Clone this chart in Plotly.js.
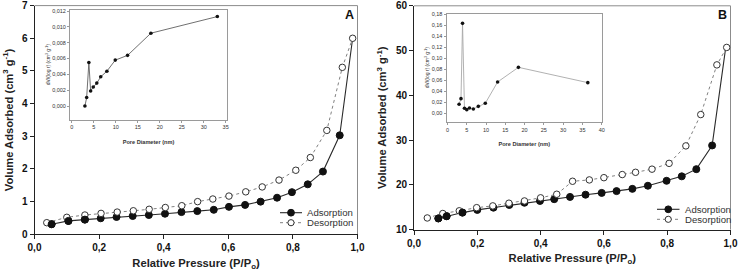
<!DOCTYPE html>
<html>
<head>
<meta charset="utf-8">
<script src="https://cdn.plot.ly/plotly-3.0.1.min.js"></script>
<style>
  html, body { margin: 0; padding: 0; background: #fff; }
  #chart { width: 739px; height: 278px; }
</style>
</head>
<body>
<div id="chart"></div>
<script>
// ---- Sample A: N2 isotherm (relative pressure vs adsorbed volume) ----
const adsA_p = [0.053, 0.105, 0.156, 0.205, 0.254, 0.304, 0.354, 0.404, 0.455, 0.504, 0.555, 0.602, 0.652, 0.700, 0.751, 0.797, 0.846, 0.893, 0.945, 0.985];
const adsA_v = [0.31, 0.41, 0.45, 0.49, 0.53, 0.56, 0.59, 0.63, 0.68, 0.71, 0.75, 0.84, 0.90, 1.00, 1.12, 1.29, 1.53, 1.92, 3.03, 6.00];
const desA_p = [0.038, 0.100, 0.156, 0.206, 0.256, 0.306, 0.355, 0.405, 0.456, 0.505, 0.552, 0.602, 0.654, 0.705, 0.757, 0.809, 0.854, 0.905, 0.953, 0.985];
const desA_v = [0.355, 0.52, 0.59, 0.64, 0.68, 0.72, 0.765, 0.82, 0.875, 1.00, 1.08, 1.17, 1.30, 1.45, 1.66, 1.96, 2.35, 3.18, 5.11, 6.00];

// ---- Sample A: pore size distribution ----
const psdA_d = [3.0, 3.4, 3.9, 4.3, 4.9, 5.7, 6.6, 8.0, 9.9, 12.7, 18.0, 33.1];
const psdA_v = [0.0000, 0.00107, 0.0055, 0.0019, 0.0024, 0.0029, 0.0037, 0.0044, 0.0058, 0.0064, 0.0092, 0.0113];

// ---- Sample B: N2 isotherm ----
const adsB_p = [0.077, 0.103, 0.153, 0.200, 0.251, 0.301, 0.349, 0.398, 0.443, 0.493, 0.542, 0.593, 0.640, 0.690, 0.739, 0.798, 0.846, 0.892, 0.942, 0.985];
const adsB_v = [12.5, 13.0, 13.8, 14.4, 14.9, 15.5, 16.0, 16.4, 16.8, 17.3, 17.8, 18.2, 18.6, 19.1, 19.8, 20.9, 21.9, 23.5, 28.8, 50.7];
const desB_p = [0.042, 0.091, 0.143, 0.198, 0.249, 0.300, 0.349, 0.400, 0.451, 0.501, 0.554, 0.600, 0.658, 0.700, 0.752, 0.806, 0.859, 0.906, 0.957, 0.988];
const desB_v = [12.6, 13.6, 14.2, 14.9, 15.3, 15.9, 16.4, 17.1, 17.9, 20.8, 21.1, 21.6, 22.3, 22.8, 23.5, 24.8, 28.7, 35.7, 46.8, 50.7];

// ---- Sample B: pore size distribution ----
const psdB_d = [3.0, 3.5, 3.9, 4.4, 5.0, 5.7, 6.7, 8.0, 9.8, 13.0, 18.4, 36.4];
const psdB_v = [0.0164, 0.0267, 0.1636, 0.0091, 0.0067, 0.0097, 0.0079, 0.0127, 0.0182, 0.057, 0.0836, 0.0558];

// ---- Labels ----
const seriesNames = ['Adsorption', 'Desorption'];
const panelLabels = ['A', 'B'];
const xTitle = 'Relative Pressure (P/P<sub>o</sub>)';
const yTitle = 'Volume Adsorbed (cm<sup>3</sup> g<sup>-1</sup>)';
const insetXTitle = 'Pore Diameter (nm)';
const insetYTitle = 'dV/(log r) (cm<sup>3</sup> g<sup>-1</sup>)';

const FONT = 'Liberation Sans, Arial, Helvetica, sans-serif';
const W = 739, H = 278;

const adsStyle = {
  mode: 'lines+markers',
  line: { color: '#2a2a2a', width: 1.1 },
  marker: { symbol: 'circle', size: 7, color: '#111', line: { color: '#111', width: 1 } }
};
const desStyle = {
  mode: 'lines+markers',
  line: { color: '#808080', width: 1, dash: 'dot' },
  marker: { symbol: 'circle', size: 6.5, color: '#fff', line: { color: '#333', width: 1 } }
};

function iso(x, y, style, xa, ya) {
  return Object.assign({ type: 'scatter', x: x, y: y, xaxis: xa, yaxis: ya, showlegend: false, hoverinfo: 'x+y' }, JSON.parse(JSON.stringify(style)));
}
// The adsorption branch closes on the desorption start point, which shows as an open circle
function adsTrace(x, y, xa, ya) {
  const t = iso(x, y, adsStyle, xa, ya);
  const last = x.length - 1;
  t.marker.color = x.map(function (_, i) { return i === last ? 'rgba(0,0,0,0)' : adsStyle.marker.color; });
  t.marker.line.color = x.map(function (_, i) { return i === last ? 'rgba(0,0,0,0)' : adsStyle.marker.line.color; });
  return t;
}
function psd(x, y, xa, ya, lineColor) {
  return {
    type: 'scatter', mode: 'lines+markers', x: x, y: y, xaxis: xa, yaxis: ya, showlegend: false,
    line: { color: lineColor, width: 0.9 },
    marker: { symbol: 'circle', size: 3.6, color: '#111' }
  };
}

const data = [
  adsTrace(adsA_p, adsA_v, 'x', 'y'),
  iso(desA_p, desA_v, desStyle, 'x', 'y'),
  adsTrace(adsB_p, adsB_v, 'x2', 'y2'),
  iso(desB_p, desB_v, desStyle, 'x2', 'y2'),
  psd(psdA_d, psdA_v, 'x3', 'y3', '#606060'),
  psd(psdB_d, psdB_v, 'x4', 'y4', '#a8a8a8')
];
// keep the first filled markers drawn above the neighbouring open circles
data.push(Object.assign({}, data[0], { mode: 'markers', x: adsA_p.slice(0, 3), y: adsA_v.slice(0, 3),
  marker: { symbol: 'circle', size: 7, color: '#111', line: { color: '#111', width: 1 } } }));
data.push(Object.assign({}, data[2], { mode: 'markers', x: adsB_p.slice(0, 3), y: adsB_v.slice(0, 3),
  marker: { symbol: 'circle', size: 7, color: '#111', line: { color: '#111', width: 1 } } }));

const mainTick = { family: FONT, size: 10, color: '#111', weight: 'bold' };
const mainTitleFont = { family: FONT, size: 11.2, color: '#222', weight: 'bold' };
const insetTick = { family: FONT, size: 5.5, color: '#333' };

function mainX(domain, anchor) {
  return {
    domain: domain, anchor: anchor, range: [0, 1], dtick: 0.2, tick0: 0, tickformat: '.1f',
    showgrid: false, zeroline: false, showline: true, linecolor: '#222', linewidth: 1,
    ticks: 'outside', ticklen: 4, tickcolor: '#222', tickfont: mainTick,
    title: { text: xTitle, font: mainTitleFont, standoff: 6 }, automargin: false
  };
}
function mainY(domain, anchor, range, dtick) {
  return {
    domain: domain, anchor: anchor, range: range, dtick: dtick,
    showgrid: false, zeroline: false, showline: true, linecolor: '#222', linewidth: 1,
    ticks: 'outside', ticklen: 4, tickcolor: '#222', tickfont: mainTick,
    title: { text: yTitle, font: mainTitleFont, standoff: 6 }, automargin: false
  };
}
function insetX(domain, anchor, range) {
  return {
    domain: domain, anchor: anchor, range: range, dtick: 5, tick0: 0,
    showgrid: false, zeroline: false, showline: true, mirror: true, linecolor: '#9a9a9a', linewidth: 1,
    ticks: 'outside', ticklen: 2, tickcolor: '#9a9a9a', tickfont: insetTick,
    title: { text: insetXTitle, font: { family: FONT, size: 5.6, color: '#333', weight: 'bold' }, standoff: 10 },
    automargin: false
  };
}
function insetY(domain, anchor, range, dtick, fmt) {
  return {
    domain: domain, anchor: anchor, range: range, dtick: dtick, tick0: 0, tickformat: fmt,
    showgrid: false, zeroline: false, showline: true, mirror: true, linecolor: '#9a9a9a', linewidth: 1,
    ticks: 'outside', ticklen: 2, tickcolor: '#9a9a9a', tickfont: insetTick,
    title: { text: insetYTitle, font: { family: FONT, size: 5, color: '#333' }, standoff: 1 },
    automargin: false
  };
}

// Gray frame closing the top and right of each main panel
function frame(xr, yr) {
  const ln = { color: '#8c8c8c', width: 1 };
  return [
    { type: 'line', xref: xr + ' domain', yref: yr + ' domain', x0: 0, x1: 1, y0: 1, y1: 1, line: ln, layer: 'below' },
    { type: 'line', xref: xr + ' domain', yref: yr + ' domain', x0: 1, x1: 1, y0: 0, y1: 1, line: ln, layer: 'below' }
  ];
}

// Hand-built compact legend (paper coordinates, pixel based)
const shapes = [].concat(frame('x', 'y'), frame('x2', 'y2'));
const annotations = [];
function px(x) { return x / W; }
function py(y) { return 1 - y / H; }
function legendBlock(x0, x1, yA, yD) {
  const cx = (x0 + x1) / 2;
  const items = [
    { y: yA, st: adsStyle, name: seriesNames[0], r: 3.4 },
    { y: yD, st: desStyle, name: seriesNames[1], r: 3.1 }
  ];
  items.forEach(function (it) {
    shapes.push({ type: 'line', xref: 'paper', yref: 'paper', x0: px(x0), x1: px(x1), y0: py(it.y), y1: py(it.y),
      line: { color: it.st.line.color, width: it.st.line.width, dash: it.st.line.dash || 'solid' } });
    shapes.push({ type: 'circle', xref: 'paper', yref: 'paper',
      x0: px(cx - it.r), x1: px(cx + it.r), y0: py(it.y + it.r), y1: py(it.y - it.r),
      fillcolor: it.st.marker.color, line: { color: it.st.marker.line.color, width: 1 } });
    annotations.push({ xref: 'paper', yref: 'paper', x: px(x1 + 3), y: py(it.y), xanchor: 'left', yanchor: 'middle',
      text: it.name, showarrow: false, font: { family: FONT, size: 9.6, color: '#333' } });
  });
}
legendBlock(280, 302, 212.7, 222.7);
legendBlock(657, 679.5, 209.3, 219.3);

annotations.push({ xref: 'paper', yref: 'paper', x: px(349.5), y: py(15.5), xanchor: 'center', yanchor: 'middle',
  text: panelLabels[0], showarrow: false, font: { family: FONT, size: 12.5, color: '#111', weight: 'bold' } });
annotations.push({ xref: 'paper', yref: 'paper', x: px(722.7), y: py(14.5), xanchor: 'center', yanchor: 'middle',
  text: panelLabels[1], showarrow: false, font: { family: FONT, size: 12.5, color: '#111', weight: 'bold' } });

const layout = {
  width: W, height: H,
  margin: { l: 0, r: 0, t: 0, b: 0 },
  paper_bgcolor: '#fff', plot_bgcolor: 'rgba(0,0,0,0)',
  separators: ', ',
  showlegend: false,
  font: { family: FONT, color: '#222' },
  xaxis: mainX([px(34.5), px(357.5)], 'y'),
  yaxis: mainY([py(234.3), py(5.6)], 'x', [0, 7], 1),
  xaxis2: mainX([px(414), px(730.5)], 'y2'),
  yaxis2: mainY([py(229.6), py(5.8)], 'x2', [10, 60], 10),
  xaxis3: insetX([px(70), px(227)], 'y3', [-0.39, 35.3]),
  yaxis3: insetY([py(119.5), py(10)], 'x3', [-0.0017, 0.01213], 0.002, '.3f'),
  xaxis4: insetX([px(446.5), px(602)], 'y4', [-0.26, 40.08]),
  yaxis4: insetY([py(122), py(13.5)], 'x4', [-0.0158, 0.1815], 0.02, '.2f'),
  shapes: shapes,
  annotations: annotations
};

Plotly.newPlot('chart', data, layout, { staticPlot: true, displayModeBar: false });
</script>
</body>
</html>
